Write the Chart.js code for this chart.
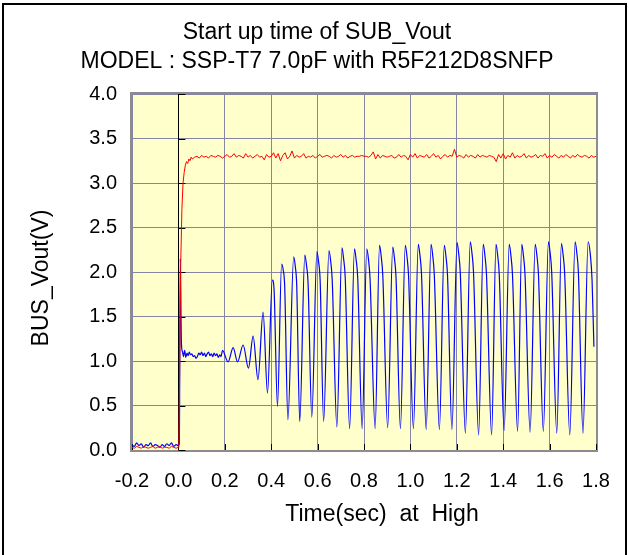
<!DOCTYPE html>
<html>
<head>
<meta charset="utf-8">
<script src="https://cdn.jsdelivr.net/npm/chart.js@4.4.0/dist/chart.umd.min.js"></script>
<style>
  html, body { margin: 0; padding: 0; background: #fff; }
</style>
</head>
<body>
<canvas id="myChart" width="629" height="555"></canvas>
<script>
// text
const titleLines = ['Start up time of SUB_Vout', 'MODEL : SSP-T7 7.0pF with R5F212D8SNFP'];
const xTitle = 'Time(sec)  at  High';
const yTitle = 'BUS_Vout(V)';

// ticks
const xTickVals = [-0.2, 0.0, 0.2, 0.4, 0.6, 0.8, 1.0, 1.2, 1.4, 1.6, 1.8];
const yTickVals = [0.0, 0.5, 1.0, 1.5, 2.0, 2.5, 3.0, 3.5, 4.0];

// red trace : before and during the rise
const redStartTime = [-0.200,-0.190,-0.180,-0.170,-0.160,-0.150,-0.140,-0.130,-0.120,-0.110,-0.100,-0.090,-0.080,-0.070,-0.060,-0.050,-0.040,-0.030,-0.020,-0.010,0.000,0.002,0.006,0.010,0.015,0.020,0.025,0.030,0.035,0.040,0.045,0.050,0.055];
const redStartVolt = [0.03,0.02,0.04,0.03,0.02,0.04,0.03,0.02,0.03,0.04,0.02,0.03,0.04,0.02,0.03,0.03,0.02,0.04,0.03,0.02,0.03,0.05,1.00,2.10,2.70,3.00,3.12,3.20,3.24,3.22,3.27,3.25,3.29];
// red trace : flat part, one reading every 0.01 s from 0.06 s
const redFlatVolt = [
  3.27,3.29,3.30,3.28,3.31,3.29,3.30,3.28,3.31,3.30,
  3.29,3.31,3.30,3.28,3.30,3.32,3.29,3.30,3.33,3.29,
  3.31,3.30,3.28,3.33,3.29,3.31,3.28,3.30,3.32,3.29,
  3.30,3.26,3.32,3.29,3.30,3.34,3.28,3.33,3.25,3.31,
  3.34,3.27,3.30,3.36,3.28,3.31,3.29,3.30,3.33,3.28,
  3.30,3.29,3.31,3.28,3.30,3.32,3.29,3.30,3.31,3.30,
  3.28,3.31,3.29,3.30,3.32,3.29,3.31,3.28,3.30,3.31,
  3.29,3.30,3.30,3.31,3.30,3.30,3.29,3.31,3.35,3.27,
  3.32,3.28,3.31,3.30,3.29,3.30,3.31,3.28,3.29,3.32,
  3.29,3.31,3.30,3.26,3.32,3.29,3.33,3.28,3.31,3.30,
  3.29,3.32,3.28,3.30,3.33,3.29,3.31,3.27,3.30,3.32,
  3.29,3.31,3.30,3.38,3.29,3.31,3.30,3.28,3.32,3.29,
  3.31,3.30,3.28,3.32,3.29,3.31,3.30,3.29,3.31,3.30,
  3.29,3.24,3.32,3.28,3.33,3.27,3.31,3.29,3.34,3.28,
  3.31,3.29,3.30,3.33,3.28,3.31,3.29,3.30,3.32,3.28,
  3.31,3.30,3.33,3.28,3.31,3.29,3.32,3.30,3.28,3.31,
  3.29,3.32,3.30,3.28,3.31,3.29,3.32,3.30,3.29,3.31,
  3.30,3.28,3.31,3.29,3.30
];

// blue trace
const blueTime = [
  -0.200,-0.190,-0.180,-0.170,-0.160,-0.150,-0.140,-0.130,-0.120,-0.110,-0.100,-0.090,-0.080,-0.070,-0.060,-0.050,-0.040,-0.030,-0.020,-0.010,0.000,0.004,
  0.008,0.013,0.018,
  0.022,0.027,0.032,0.037,0.042,0.047,0.052,0.058,0.064,0.070,0.076,0.082,0.088,0.094,0.100,0.106,0.112,0.118,0.124,0.130,0.136,0.142,0.148,0.154,0.160,0.166,0.172,0.178,0.184,0.190,
  0.214,0.236,0.255,0.279,0.302,0.322,0.343,0.365,0.384,0.405,0.412,0.427,
  0.445,0.452,0.458,0.472, 0.497,0.504,0.510,0.523, 0.545,0.552,0.559,0.575,
  0.597,0.604,0.611,0.626, 0.649,0.656,0.663,0.683, 0.705,0.712,0.719,0.738,
  0.759,0.766,0.773,0.792, 0.812,0.819,0.826,0.848, 0.867,0.874,0.881,0.902,
  0.924,0.931,0.938,0.957, 0.978,0.985,0.992,1.013, 1.034,1.041,1.048,1.068,
  1.089,1.096,1.103,1.125, 1.146,1.153,1.160,1.179, 1.201,1.208,1.215,1.237,
  1.258,1.265,1.272,1.294, 1.314,1.321,1.328,1.350, 1.369,1.376,1.383,1.404,
  1.426,1.433,1.440,1.462, 1.480,1.487,1.494,1.516, 1.538,1.545,1.552,1.573,
  1.595,1.602,1.609,1.631, 1.651,1.658,1.665,1.687, 1.710,1.717,1.724,1.744,
  1.766,1.775,1.783,1.791
];
const blueVolt = [
  0.06,0.04,0.08,0.05,0.07,0.03,0.06,0.05,0.08,0.04,0.06,0.05,0.03,0.06,0.04,0.07,0.05,0.08,0.04,0.06,0.05,0.07,
  2.15,1.20,1.10,
  1.05,1.12,1.04,1.09,1.06,1.10,1.07,1.08,1.05,1.06,1.03,1.05,1.09,1.07,1.10,1.06,1.09,1.05,1.08,1.10,1.06,1.08,1.05,1.09,1.06,1.08,1.04,1.07,1.05,1.12,
  0.99,1.15,0.99,1.18,0.92,1.28,0.79,1.55,0.64,1.91,1.82,0.49,
  2.09,2.02,1.85,0.34, 2.17,2.06,1.85,0.32, 2.19,2.08,1.87,0.37,
  2.23,2.12,1.90,0.32, 2.24,2.13,1.91,0.26, 2.27,2.15,1.94,0.24,
  2.26,2.14,1.93,0.24, 2.26,2.15,1.93,0.24, 2.30,2.18,1.96,0.25,
  2.28,2.16,1.94,0.24, 2.30,2.18,1.96,0.24, 2.31,2.19,1.97,0.23,
  2.31,2.19,1.97,0.23, 2.30,2.18,1.96,0.23, 2.33,2.21,1.99,0.19,
  2.34,2.22,2.00,0.17, 2.31,2.19,1.97,0.17, 2.31,2.19,1.97,0.22,
  2.31,2.19,1.97,0.21, 2.31,2.19,1.97,0.20, 2.31,2.19,1.97,0.21,
  2.34,2.22,2.00,0.19, 2.32,2.20,1.98,0.17, 2.34,2.22,2.00,0.19,
  2.34,2.21,1.91,1.16
];

const FONT = "'Liberation Sans', Arial, sans-serif";

let redPoints = redStartTime.map((t, i) => ({ x: t, y: redStartVolt[i] }));
redFlatVolt.forEach((v, i) => redPoints.push({ x: +(0.06 + i * 0.01).toFixed(2), y: v }));
let bluePoints = blueTime.map((t, i) => ({ x: t, y: blueVolt[i] }));

const plotDecor = {
  id: 'plotDecor',
  beforeDraw(chart) {
    const { ctx, chartArea: a } = chart;
    ctx.save();
    ctx.fillStyle = '#ffffcc';
    ctx.fillRect(a.left, a.top, a.right - a.left, a.bottom - a.top);
    ctx.restore();
  },
  beforeDatasetsDraw(chart) {
    const { ctx, chartArea: a, scales } = chart;
    ctx.save();
    // frame
    ctx.strokeStyle = '#8c8c8c';
    ctx.lineWidth = 2;
    ctx.strokeRect(a.left - 1, a.top - 1, a.right - a.left + 2, a.bottom - a.top + 2);
    // zero line + inner tick marks
    const x0 = scales.x.getPixelForValue(0);
    ctx.strokeStyle = '#000';
    ctx.lineWidth = 1;
    ctx.beginPath();
    ctx.moveTo(Math.round(x0) + 0.5, a.top);
    ctx.lineTo(Math.round(x0) + 0.5, a.bottom);
    yTickVals.forEach(v => {
      const y = Math.round(scales.y.getPixelForValue(v)) + 0.5;
      ctx.moveTo(x0, y);
      ctx.lineTo(x0 + 7, y);
    });
    xTickVals.forEach(v => {
      const x = Math.round(scales.x.getPixelForValue(v)) + 0.5;
      ctx.moveTo(x, a.bottom);
      ctx.lineTo(x, a.bottom - 6);
    });
    ctx.stroke();
    ctx.restore();
  },
  afterDraw(chart) {
    const { ctx } = chart;
    ctx.save();
    ctx.fillStyle = '#000';
    ctx.font = '23px ' + FONT;
    ctx.textAlign = 'center';
    ctx.textBaseline = 'middle';
    ctx.fillText(titleLines[0], 317, 33);
    ctx.fillText(titleLines[1], 317, 62);
    ctx.fillText(xTitle, 382, 515);
    ctx.translate(42, 278);
    ctx.rotate(-Math.PI / 2);
    ctx.fillText(yTitle, 0, 0);
    ctx.restore();
    // outer border
    ctx.save();
    ctx.strokeStyle = '#000';
    ctx.lineWidth = 2;
    ctx.strokeRect(3, 4, 623, 600);
    ctx.restore();
  }
};

new Chart(document.getElementById('myChart'), {
  type: 'line',
  data: {
    datasets: [
      {
        data: redPoints,
        borderColor: '#ff0000',
        borderWidth: 1,
        pointRadius: 0,
        tension: 0
      },
      {
        data: bluePoints,
        borderColor: '#0000ff',
        borderWidth: 1.2,
        pointRadius: 0,
        tension: 0.4,
        cubicInterpolationMode: 'monotone'
      }
    ]
  },
  options: {
    responsive: false,
    animation: false,
    layout: { padding: { top: 94, left: 0, right: 33, bottom: 0 } },
    plugins: {
      legend: { display: false },
      tooltip: { enabled: false },
      title: { display: false }
    },
    scales: {
      x: {
        type: 'linear',
        min: -0.2,
        max: 1.8,
        afterBuildTicks: s => { s.ticks = xTickVals.map(v => ({ value: v })); },
        afterFit: s => { s.height = 105; },
        ticks: {
          callback: v => Number(v).toFixed(1),
          color: '#000',
          font: { family: FONT, size: 20 },
          padding: 19,
          autoSkip: false,
          maxRotation: 0
        },
        grid: {
          color: c => (c.tick && c.tick.value === 0) ? '#000' : '#8484a4',
          drawTicks: false
        },
        border: { display: false }
      },
      y: {
        min: 0,
        max: 4,
        afterBuildTicks: s => { s.ticks = yTickVals.map(v => ({ value: v })); },
        afterFit: s => { s.width = 132; },
        ticks: {
          callback: v => Number(v).toFixed(1),
          color: '#000',
          font: { family: FONT, size: 20 },
          padding: 15
        },
        grid: { color: '#8484a4', drawTicks: false },
        border: { display: false }
      }
    }
  },
  plugins: [plotDecor]
});
</script>
</body>
</html>
